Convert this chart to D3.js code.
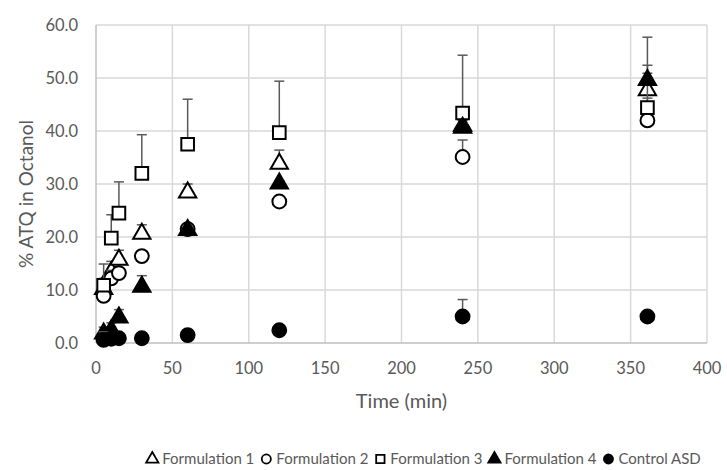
<!DOCTYPE html>
<html>
<head>
<meta charset="utf-8">
<script src="https://cdn.jsdelivr.net/npm/d3@7"></script>
<style>
  body { margin: 0; background: #fff; }
  svg text { font-family: Lato, "Open Sans", sans-serif; fill: #595959; }
</style>
</head>
<body>
<div id="root"></div>
<script>
"use strict";

// sampling times (min)
var times = [5, 10, 15, 30, 60, 120, 240, 361];

var seriesNames = ["Formulation 1", "Formulation 2", "Formulation 3", "Formulation 4", "Control ASD"];
var seriesSymbols = ["triangle-open", "circle-open", "square-open", "triangle", "circle"];

// mean % ATQ in octanol
var form1 = [10.2, 13.4, 15.7, 20.6, 28.4, 33.8, 41.0, 47.7];
var form2 = [8.9, 12.2, 13.2, 16.4, 21.5, 26.7, 35.1, 42.0];
var form3 = [10.9, 19.8, 24.5, 32.0, 37.5, 39.7, 43.4, 44.4];
var form4 = [1.8, 2.4, 4.8, 10.6, 21.3, 30.1, 40.6, 49.6];
var control = [0.6, 0.8, 0.9, 0.9, 1.5, 2.4, 5.0, 5.0];

// standard deviation (upper bars only)
var form1Sd = [2.0, 2.0, 1.8, 1.7, 1.6, 2.6, 1.0, 4.7];
var form2Sd = [1.0, 1.5, 1.0, 1.0, 0.7, 0.5, 3.2, 4.2];
var form3Sd = [4.0, 4.4, 5.9, 7.3, 8.5, 9.7, 10.9, 13.3];
var form4Sd = [1.2, 1.4, 1.5, 2.1, 0.5, 0.5, 0.8, 1.3];
var controlSd = [1.5, 0.5, 0.3, 0.4, 0.3, 0.6, 3.2, 0.9];

var xTicks = [0, 50, 100, 150, 200, 250, 300, 350, 400];
var yTicks = [0, 10, 20, 30, 40, 50, 60];

var means = [form1, form2, form3, form4, control];
var sds = [form1Sd, form2Sd, form3Sd, form4Sd, controlSd];

var width = 727, height = 470;
var margin = { left: 96, right: 20, top: 25, bottom: 127 };

var svg = d3.select("#root").append("svg")
    .attr("width", width)
    .attr("height", height);

var x = d3.scaleLinear().domain([0, 400]).range([margin.left, width - margin.right]);
var y = d3.scaleLinear().domain([0, 60]).range([height - margin.bottom, margin.top]);

// gridlines
var grid = svg.append("g").attr("class", "grid");
grid.selectAll(".gx")
    .data(xTicks.slice(1))
    .enter().append("line")
    .attr("x1", d => x(d)).attr("x2", d => x(d))
    .attr("y1", y(0)).attr("y2", y(60))
    .attr("stroke", "#d9d9d9").attr("stroke-width", 1.5);
grid.selectAll(".gy")
    .data(yTicks.slice(1))
    .enter().append("line")
    .attr("x1", x(0)).attr("x2", x(400))
    .attr("y1", d => y(d)).attr("y2", d => y(d))
    .attr("stroke", "#d9d9d9").attr("stroke-width", 1.5);

// axis lines
svg.append("line")
    .attr("x1", x(0)).attr("x2", x(0))
    .attr("y1", y(0)).attr("y2", y(60))
    .attr("stroke", "#bfbfbf").attr("stroke-width", 1.5);
svg.append("line")
    .attr("x1", x(0)).attr("x2", x(400))
    .attr("y1", y(0)).attr("y2", y(0))
    .attr("stroke", "#bfbfbf").attr("stroke-width", 1.5);

// tick labels
svg.append("g").selectAll("text")
    .data(yTicks)
    .enter().append("text")
    .attr("x", x(0) - 18)
    .attr("y", d => y(d))
    .attr("dy", "0.35em")
    .attr("text-anchor", "end")
    .style("font-size", "16.5px")
    .text(d => d3.format(".1f")(d));

svg.append("g").selectAll("text")
    .data(xTicks)
    .enter().append("text")
    .attr("x", d => x(d))
    .attr("y", y(0) + 25)
    .attr("dy", "0.35em")
    .attr("text-anchor", "middle")
    .style("font-size", "16.5px")
    .text(d => d);

// axis titles
svg.append("text")
    .attr("x", (x(0) + x(400)) / 2)
    .attr("y", 401)
    .attr("dy", "0.35em")
    .attr("text-anchor", "middle")
    .style("font-size", "20px")
    .text("Time (min)");

svg.append("text")
    .attr("transform", "translate(26," + ((y(0) + y(60)) / 2 + 10) + ") rotate(-90)")
    .attr("dy", "0.35em")
    .attr("text-anchor", "middle")
    .style("font-size", "19px")
    .text("% ATQ in Octanol");

// marker helpers
function symbolPath(kind, size) {
    var type = kind.indexOf("triangle") === 0 ? d3.symbolTriangle
        : kind.indexOf("square") === 0 ? d3.symbolSquare
        : d3.symbolCircle;
    return d3.symbol().type(type).size(size)();
}
function isOpen(kind) { return kind.indexOf("open") > 0; }

var plot = svg.append("g").attr("class", "series");

seriesNames.forEach(function (name, i) {
    var kind = seriesSymbols[i];
    var pts = times.map((t, j) => ({ t: t, v: means[i][j], sd: sds[i][j] }));
    var g = plot.append("g");

    // upper error bars
    var eb = g.selectAll(".err").data(pts).enter().append("g");
    eb.append("line")
        .attr("x1", d => x(d.t)).attr("x2", d => x(d.t))
        .attr("y1", d => y(d.v)).attr("y2", d => y(d.v + d.sd))
        .attr("stroke", "#595959").attr("stroke-width", 1.5);
    eb.append("line")
        .attr("x1", d => x(d.t) - 5).attr("x2", d => x(d.t) + 5)
        .attr("y1", d => y(d.v + d.sd)).attr("y2", d => y(d.v + d.sd))
        .attr("stroke", "#595959").attr("stroke-width", 1.5);

    var size = kind.indexOf("square") === 0 ? 160 : kind.indexOf("triangle") === 0 ? 130 : 150;
    g.selectAll(".pt").data(pts).enter().append("path")
        .attr("d", symbolPath(kind, size))
        .attr("transform", d => "translate(" + x(d.t) + "," + y(d.v) + ")")
        .attr("fill", isOpen(kind) ? "#fff" : "#000")
        .attr("stroke", "#000")
        .attr("stroke-width", 2);
});

// legend, centred on the same spot as the reference
var legend = svg.append("g").attr("class", "legend");
var lx = 0, ly = 459;
seriesNames.forEach(function (name, i) {
    var kind = seriesSymbols[i];
    var item = legend.append("g").attr("transform", "translate(" + lx + "," + ly + ")");
    item.append("path")
        .attr("d", symbolPath(kind, kind.indexOf("square") === 0 ? 70 : 65))
        .attr("transform", "translate(5,0)")
        .attr("fill", isOpen(kind) ? "#fff" : "#000")
        .attr("stroke", "#000")
        .attr("stroke-width", 1.8);
    var t = item.append("text")
        .attr("x", 15)
        .attr("dy", "0.35em")
        .style("font-size", "15px")
        .text(name);
    lx += 15 + t.node().getComputedTextLength() + (i < seriesNames.length - 1 ? 7 : 0);
});
legend.attr("transform", "translate(" + (424 - lx / 2) + ",0)");
</script>
</body>
</html>
